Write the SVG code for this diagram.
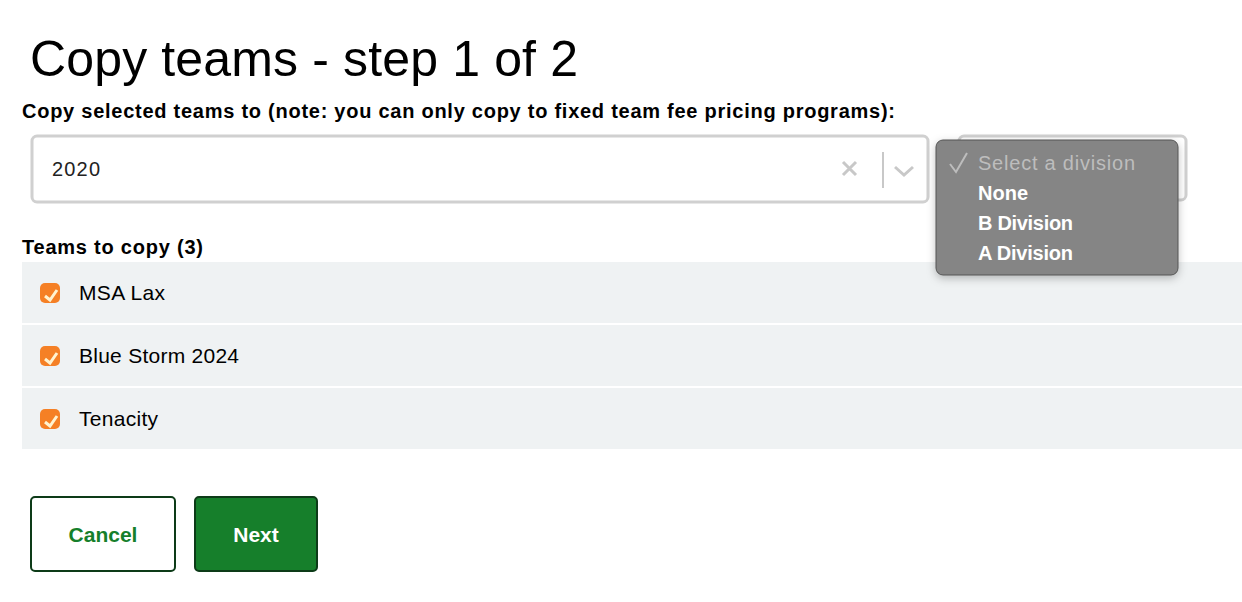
<svg xmlns="http://www.w3.org/2000/svg" width="1242" height="602" viewBox="0 0 1242 602">
<defs>
<style>
text{font-family:"Liberation Sans",Arial,sans-serif}
.row{fill:#eff2f3}
.team{font-size:21px;fill:#000}
.cb{fill:#f58025}
.opt{font-size:20px;font-weight:bold;fill:#fff}
</style>
<filter id="sh" x="-10%" y="-10%" width="120%" height="130%"><feDropShadow dx="0" dy="3" stdDeviation="4" flood-opacity="0.25"/></filter>
</defs>
<rect width="1242" height="602" fill="#fff"/>
<text x="30" y="76" font-size="50" fill="#000" textLength="548">Copy teams - step 1 of 2</text>
<text x="22" y="118" font-size="20" font-weight="bold" fill="#000" textLength="873">Copy selected teams to (note: you can only copy to fixed team fee pricing programs):</text>
<g id="select-program">
<rect x="32" y="136" width="896" height="66" rx="5" fill="#fff" stroke="#d0d0d0" stroke-width="3"/>
<text x="52" y="176" font-size="20" fill="#222" textLength="48">2020</text>
<path d="M843 162l13 13M856 162l-13 13" stroke="#c8c8c8" stroke-width="3"/>
<line x1="883" y1="152" x2="883" y2="188" stroke="#c8c8c8" stroke-width="2"/>
<path d="M895 167l9 8 9-8" fill="none" stroke="#c8c8c8" stroke-width="3"/>
</g>
<g id="select-division">
<rect x="959" y="136" width="227" height="64" rx="5" fill="#fff" stroke="#d0d0d0" stroke-width="3"/>
</g>
<text x="22" y="254" font-size="20" font-weight="bold" fill="#000" textLength="181">Teams to copy (3)</text>
<g id="team-1"><rect class="row" x="22" y="262" width="1220" height="61"/><rect class="cb" x="40" y="283" width="20" height="20" rx="5"/><path d="M45 296l5 4 7-10" fill="none" stroke="#fff3d0" stroke-width="3"/><text class="team" x="79" y="300" textLength="86">MSA Lax</text></g>
<g id="team-2"><rect class="row" x="22" y="325" width="1220" height="61"/><rect class="cb" x="40" y="346" width="20" height="20" rx="5"/><path d="M45 359l5 4 7-10" fill="none" stroke="#fff3d0" stroke-width="3"/><text class="team" x="79" y="363" textLength="160">Blue Storm 2024</text></g>
<g id="team-3"><rect class="row" x="22" y="388" width="1220" height="61"/><rect class="cb" x="40" y="409" width="20" height="20" rx="5"/><path d="M45 422l5 4 7-10" fill="none" stroke="#fff3d0" stroke-width="3"/><text class="team" x="79" y="426" textLength="79">Tenacity</text></g>
<g id="dropdown">
<rect x="936" y="140" width="242" height="135" rx="7" fill="#858585" stroke="#555" stroke-width="1" filter="url(#sh)"/>
<path d="M950 164l6 8 11-19" fill="none" stroke="#bdbdbd" stroke-width="2"/>
<text x="978" y="170" font-size="20" fill="#bdbdbd" textLength="157">Select a division</text>
<text class="opt" x="978" y="200" textLength="50">None</text>
<text class="opt" x="978" y="230" textLength="95">B Division</text>
<text class="opt" x="978" y="260" textLength="95">A Division</text>
</g>
<g id="cancel"><rect x="31" y="497" width="144" height="74" rx="4" fill="#fff" stroke="#0d3b18" stroke-width="2"/><text x="103" y="542" font-size="21" font-weight="bold" fill="#167f2b" text-anchor="middle">Cancel</text></g>
<g id="next"><rect x="195" y="497" width="122" height="74" rx="4" fill="#167f2b" stroke="#0d3b18" stroke-width="2"/><text x="256" y="542" font-size="21" font-weight="bold" fill="#fff" text-anchor="middle">Next</text></g>
<g id="connectors"/>
</svg>
